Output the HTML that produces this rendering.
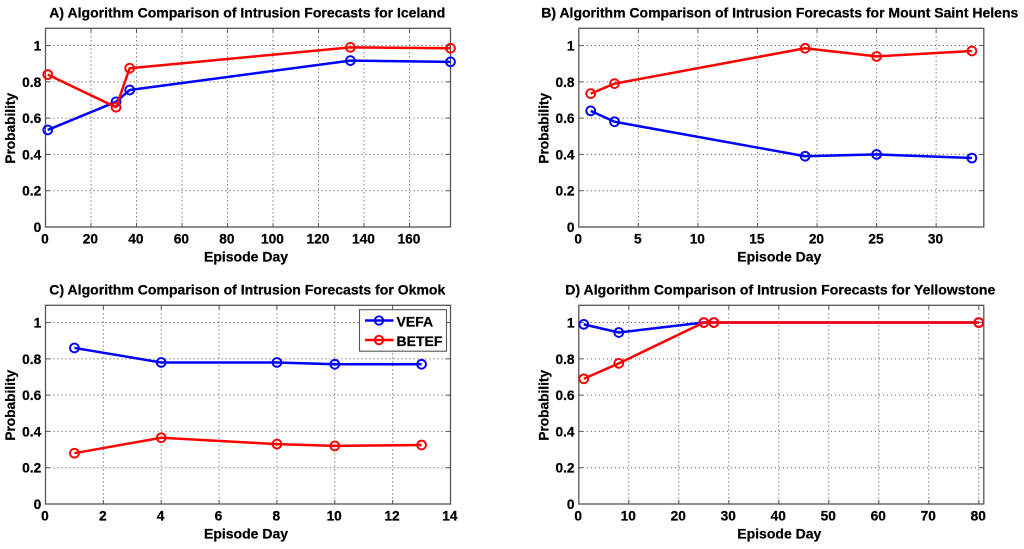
<!DOCTYPE html>
<html>
<head>
<meta charset="utf-8">
<title>Algorithm Comparison of Intrusion Forecasts</title>
<style>
html,body{margin:0;padding:0;background:#fff;width:1024px;height:549px;overflow:hidden}
svg{display:block;filter:blur(0.35px)}
text{font-family:"Liberation Sans",Arial,sans-serif;font-weight:bold;fill:#000;stroke:#000;stroke-width:0.25px}
</style>
</head>
<body>
<svg id="figure" width="1024" height="549" viewBox="0 0 1024 549" xmlns="http://www.w3.org/2000/svg"></svg>
<script>
const yTicks = [0, 0.2, 0.4, 0.6, 0.8, 1];
const yLabels = ['0', '0.2', '0.4', '0.6', '0.8', '1'];

const icelandDays = [1, 31, 37, 134, 178];
const icelandVefa = [0.535, 0.69, 0.755, 0.917, 0.91];
const icelandBetef = [0.84, 0.66, 0.875, 0.99, 0.985];
const icelandXTicks = [0, 20, 40, 60, 80, 100, 120, 140, 160];

const helensDays = [1, 3, 19, 25, 33];
const helensVefa = [0.64, 0.58, 0.39, 0.40, 0.38];
const helensBetef = [0.735, 0.79, 0.985, 0.94, 0.97];
const helensXTicks = [0, 5, 10, 15, 20, 25, 30];

const okmokDays = [1, 4, 8, 10, 13];
const okmokVefa = [0.86, 0.78, 0.78, 0.77, 0.77];
const okmokBetef = [0.28, 0.365, 0.33, 0.32, 0.325];
const okmokXTicks = [0, 2, 4, 6, 8, 10, 12, 14];

const yellowstoneDays = [1, 8, 25, 27, 80];
const yellowstoneVefa = [0.99, 0.945, 1, 1, 1];
const yellowstoneBetef = [0.69, 0.775, 1, 1, 1];
const yellowstoneXTicks = [0, 10, 20, 30, 40, 50, 60, 70, 80];

const panels = [
  {key:'iceland', title:'A) Algorithm Comparison of Intrusion Forecasts for Iceland', tw:396, tx:49.3, ty:17.3, left:45.5, top:28.3, xMax:178, days:icelandDays, vefa:icelandVefa, betef:icelandBetef, xTicks:icelandXTicks},
  {key:'mount-saint-helens', title:'B) Algorithm Comparison of Intrusion Forecasts for Mount Saint Helens', tw:477, tx:541.3, ty:17.3, left:578.8, top:28.3, xMax:34, days:helensDays, vefa:helensVefa, betef:helensBetef, xTicks:helensXTicks},
  {key:'okmok', title:'C) Algorithm Comparison of Intrusion Forecasts for Okmok', tw:396, tx:49.3, ty:294.3, left:45.5, top:305.3, xMax:14, days:okmokDays, vefa:okmokVefa, betef:okmokBetef, xTicks:okmokXTicks},
  {key:'yellowstone', title:'D) Algorithm Comparison of Intrusion Forecasts for Yellowstone', tw:430, tx:565.3, ty:294.3, left:578.8, top:305.3, xMax:81, days:yellowstoneDays, vefa:yellowstoneVefa, betef:yellowstoneBetef, xTicks:yellowstoneXTicks}
];

const plotWidth = 405;
const plotHeight = 198.7;
const yMax = 1.095;
const svgNS = 'http://www.w3.org/2000/svg';
const figure = document.getElementById('figure');

function make(parent, tag, attrs) {
  const el = document.createElementNS(svgNS, tag);
  for (const k in attrs) el.setAttribute(k, attrs[k]);
  parent.appendChild(el);
  return el;
}

function drawLine(parent, x1, y1, x2, y2, stroke, width, dash, name) {
  const el = make(parent, 'line', {x1:x1, y1:y1, x2:x2, y2:y2, stroke:stroke, 'stroke-width':width});
  if (dash) el.setAttribute('stroke-dasharray', dash);
  
  
  return el;
}

function drawText(parent, str, x, y, size, anchor, name) {
  const el = make(parent, 'text', {x:x, y:y, 'font-size':size, 'text-anchor':anchor});
  el.textContent = str;
  
  
  return el;
}

function drawSeries(parent, xs, ys, sx, sy, color, name) {
  const group = make(parent, 'g', {});
  
  
  const pts = xs.map((d, i) => sx(d) + ',' + sy(ys[i])).join(' ');
  const line = make(group, 'polyline', {points:pts, fill:'none', stroke:color, 'stroke-width':2.5, 'stroke-linejoin':'round'});
  
  
  xs.forEach((d, i) => {
    const c = make(group, 'circle', {cx:sx(d), cy:sy(ys[i]), r:4.4, fill:'none', stroke:color, 'stroke-width':1.9});
    
    
  });
}

panels.forEach(p => {
  const g = make(figure, 'g', {});
  
  
  const right = p.left + plotWidth;
  const bottom = p.top + plotHeight;
  const sx = v => p.left + v / p.xMax * plotWidth;
  const sy = v => bottom - v / yMax * plotHeight;

  yTicks.forEach((t, i) => {
    const y = sy(t);
    if (t > 0) {
      drawLine(g, p.left, y, right, y, '#555', 1, '1.1 2.9', 'y-gridline');
      drawLine(g, p.left, y, p.left + 4, y, '#555', 1, '', 'y-tick');
      drawLine(g, right - 4, y, right, y, '#555', 1, '', 'y-tick');
    }
    drawText(g, yLabels[i], p.left - 4.3, y + 5, 13.7, 'end', 'y-tick-label');
  });

  p.xTicks.forEach(t => {
    const x = sx(t);
    if (t > 0 && t < p.xMax) {
      drawLine(g, x, p.top, x, bottom, '#555', 1, '1.1 2.9', 'x-gridline');
      drawLine(g, x, bottom - 4, x, bottom, '#555', 1, '', 'x-tick');
      drawLine(g, x, p.top, x, p.top + 4, '#555', 1, '', 'x-tick');
    }
    drawText(g, String(t), x - 0.6, bottom + 16.5, 13.7, 'middle', 'x-tick-label');
  });

  const frame = make(g, 'rect', {x:p.left, y:p.top, width:plotWidth, height:plotHeight, fill:'none', stroke:'#555', 'stroke-width':1.3});
  
  

  drawSeries(g, p.days, p.vefa, sx, sy, '#0000ff', 'series-vefa');
  drawSeries(g, p.days, p.betef, sx, sy, '#ff0000', 'series-betef');

  const title = drawText(g, p.title, p.tx, p.ty, 14, 'start', 'chart-title');
  title.setAttribute('textLength', p.tw);
  title.setAttribute('lengthAdjust', 'spacing');

  drawText(g, 'Episode Day', p.left + 200.5, bottom + 34.3, 14, 'middle', 'x-axis-title');

  const cy = p.top + 100;
  const yTitle = drawText(g, 'Probability', 0, 0, 13.7, 'middle', 'y-axis-title');
  yTitle.setAttribute('transform', 'translate(' + (p.left - 30.3) + ' ' + cy + ') rotate(-90)');
});

const legend = make(figure, 'g', {});


const legendBox = make(legend, 'rect', {x:359.5, y:309.7, width:87, height:41.5, fill:'#fff', stroke:'#555', 'stroke-width':1.1});


const legendNames = ['VEFA', 'BETEF'];
const legendColors = ['#0000ff', '#ff0000'];
const legendRows = [320.5, 340];
legendNames.forEach((n, i) => {
  const row = make(legend, 'g', {});
  
  
  drawLine(row, 365, legendRows[i], 393.5, legendRows[i], legendColors[i], 2.5, '', 'legend-line');
  const m = make(row, 'circle', {cx:379, cy:legendRows[i], r:4.2, fill:'none', stroke:legendColors[i], 'stroke-width':1.9});
  
  
  drawText(row, n, 396.5, legendRows[i] + 6, 14, 'start', 'legend-label');
});
</script>
</body>
</html>
